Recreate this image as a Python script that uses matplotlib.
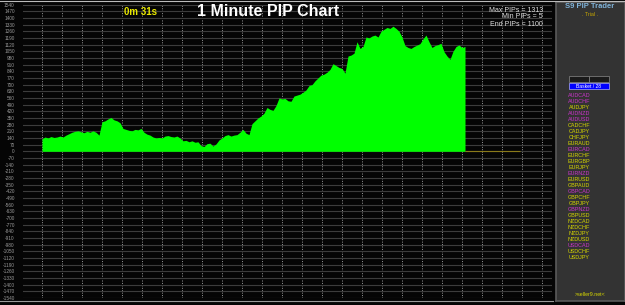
import numpy as np
import matplotlib
matplotlib.use("Agg")
import matplotlib.pyplot as plt
from matplotlib.patches import Rectangle

plt.rcParams['font.family'] = ['Liberation Sans', 'DejaVu Sans']

# PIP curve, one sample per bar
pips = [130, 150, 140, 155, 145, 150, 160, 150, 170, 185,
        200, 210, 215, 205, 195, 210, 200, 215, 200, 170,
        310, 320, 340, 355, 330, 320, 300, 240, 230, 220,
        215, 230, 225, 240, 200, 180, 170, 150, 140, 145,
        140, 160, 165, 155, 150, 160, 140, 110, 115, 100,
        110, 95, 100, 60, 50, 80, 85, 55, 77, 119,
        140, 165, 175, 160, 170, 175, 200, 230, 190, 175,
        290, 320, 350, 370, 400, 460, 440, 430, 480, 560,
        550, 555, 530, 525, 580, 590, 600, 620, 644, 690,
        700, 740, 770, 800, 810, 830, 860, 920, 900, 880,
        870, 820, 1000, 1010, 1030, 1150, 1080, 1100, 1200, 1190,
        1210, 1220, 1200, 1260, 1280, 1300, 1290, 1313, 1290, 1260,
        1200, 1110, 1090, 1080, 1100, 1115, 1130, 1180, 1220, 1150,
        1090, 1110, 1120, 1134, 1046, 1000, 966, 1050, 1100, 1116,
        1090, 1100]

y_ticks = list(range(-1540, 1541, 70))

pairs = ['AUDCAD', 'AUDCHF', 'AUDJPY', 'AUDNZD', 'AUDUSD', 'CADCHF', 'CADJPY',
         'CHFJPY', 'EURAUD', 'EURCAD', 'EURCHF', 'EURGBP', 'EURJPY', 'EURNZD',
         'EURUSD', 'GBPAUD', 'GBPCAD', 'GBPCHF', 'GBPJPY', 'GBPNZD', 'GBPUSD',
         'NZDCAD', 'NZDCHF', 'NZDJPY', 'NZDUSD', 'USDCAD', 'USDCHF', 'USDJPY']
magenta_pairs = ['AUDCAD', 'AUDCHF', 'AUDNZD', 'AUDUSD', 'EURCAD', 'EURNZD',
                 'GBPCAD', 'GBPNZD', 'USDCAD']

W, H = 625, 305
fig = plt.figure(figsize=(W / 100, H / 100), dpi=100, facecolor='#050505')

# main chart
ax = fig.add_axes([23 / W, 7 / H, (552 - 23) / W, 293.4 / H])
ax.set_facecolor('#050505')
x = np.arange(len(pips))
ax.fill_between(x, 0, pips, color='#00ff00', linewidth=0, zorder=3)
ax.hlines(0, len(pips) - 1, 159.3, color='#8a7a1a', linewidth=0.8, zorder=3)
ax.set_xlim(-6.33, 170)
ax.set_ylim(-1540, 1540)
ax.set_yticks(y_ticks)
ax.set_yticklabels([str(v) for v in y_ticks], fontsize=3.4, color='#9a9a9a')
ax.set_xticks(np.arange(0, 170, 20 / 3))
ax.tick_params(axis='x', length=0, labelbottom=False)
ax.tick_params(axis='y', length=0, pad=6)
ax.grid(axis='y', color='#3c3c3c', linewidth=0.8, zorder=1)
ax.grid(axis='x', color='#9a9a9a', linewidth=0.7, linestyle=(0, (1, 1.5)), zorder=1)
for s in ax.spines.values():
    s.set_visible(False)

fig.text(140 / W, 1 - 12 / H, '0m 31s', color='#e8e800', fontsize=7,
         fontweight='bold', ha='center', va='center')
fig.text(268 / W, 1 - 12 / H, '1 Minute PIP Chart', color='white', fontsize=11.5,
         fontweight='bold', ha='center', va='center')
for i, t in enumerate(['Max PIPs = 1313', 'Min PIPs = 5', 'End PIPs = 1100']):
    fig.text(543 / W, 1 - (10 + 7 * i) / H, t, color='#e0e0e0', fontsize=5,
             ha='right', va='center')

# frame lines
fig.add_artist(plt.Line2D([0, 1], [1 - 1 / H, 1 - 1 / H], color='#bbbbbb', linewidth=0.8))
fig.add_artist(plt.Line2D([0, 553 / W], [4 / H, 4 / H], color='#9a9a9a', linewidth=0.8))

# right panel
pan = fig.add_axes([556 / W, 4 / H, 69 / W, 299 / H])
pan.set_xlim(0, 69)
pan.set_ylim(303, 4)
pan.set_facecolor('#333333')
pan.set_xticks([])
pan.set_yticks([])
for s in pan.spines.values():
    s.set_color('#5a5a5a')
    s.set_linewidth(1.2)

pan.text(34, 9, 'S9 PIP Trader', color='#7fb2d8', fontsize=5.5, fontweight='bold',
         ha='center', va='center')
pan.text(34, 16, '. Trial .', color='#c8a800', fontsize=3.8, ha='center', va='center')
pan.add_patch(Rectangle((13, 78), 20, 6, facecolor='#1a1a1a', edgecolor='#888888', linewidth=0.5))
pan.add_patch(Rectangle((33, 78), 20, 6, facecolor='#1a1a1a', edgecolor='#888888', linewidth=0.5))
pan.add_patch(Rectangle((13, 85), 40, 6, facecolor='#0000ff', edgecolor='#aaaaff', linewidth=0.5))
pan.text(33, 88, 'Basket / 28', color='white', fontsize=3.6, ha='center', va='center')
for i, p in enumerate(pairs):
    c = '#cc33cc' if p in magenta_pairs else '#d8d800'
    pan.text(23, 97.7 + 6 * i, p, color=c, fontsize=3.9, ha='center', va='center')
pan.text(34, 297, '>seller9.net<', color='#d8d800', fontsize=3.8, ha='center', va='center')

fig.savefig('out.png', dpi=100, facecolor=fig.get_facecolor())
